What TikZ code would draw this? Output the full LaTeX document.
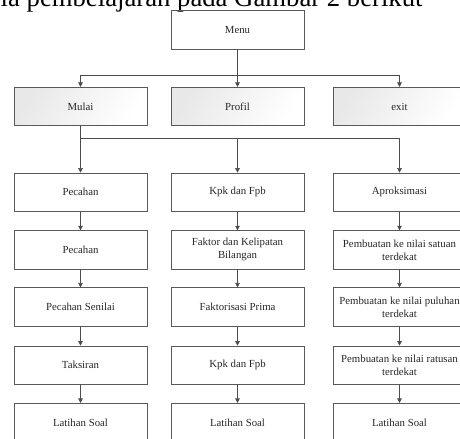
\documentclass[tikz,border=0pt]{standalone}
\usepackage{fontspec}
\setmainfont{Liberation Serif}
\usetikzlibrary{arrows.meta}
\tikzset{
  box/.style={draw=black!65, line width=0.6bp, minimum width=133bp, minimum height=38.5bp,
    inner sep=1bp, align=center, text=black!85, font=\fontsize{10.8bp}{13bp}\selectfont},
  shadebox/.style={box, left color=black!9, right color=white, shading angle=60},
  conn/.style={draw=black!70, line width=0.6bp},
  arr/.style={conn, -{Triangle[length=4.5bp,width=4.5bp]}}
}
\begin{document}
\begin{tikzpicture}[x=1bp,y=-1bp]
\useasboundingbox (0,0) rectangle (460,439);
\clip (0,0) rectangle (460,439);
\node[anchor=base west, inner sep=0pt, font=\fontsize{26.7bp}{30bp}\selectfont] (title) at (0.5,6.5) {ia pembelajaran pada Gambar 2 berikut};
% top
\node[box] (menu) at (237.5,29.9) {Menu};
\node[shadebox] (mulai) at (80.5,106.5) {Mulai};
\node[shadebox] (profil) at (237.5,106.5) {Profil};
\node[shadebox] (exit) at (399.5,106.5) {exit};
% left column
\node[box] (a1) at (80.5,192.2) {Pecahan};
\node[box] (a2) at (80.5,249.9) {Pecahan};
\node[box] (a3) at (80.5,307) {Pecahan Senilai};
\node[box] (a4) at (80.5,365.2) {Taksiran};
\node[box] (a5) at (80.5,422.5) {Latihan Soal};
% middle column
\node[box] (b1) at (237.5,192.2) {Kpk dan Fpb};
\node[box] (b2) at (237.5,249.9) {Faktor dan Kelipatan\\Bilangan};
\node[box] (b3) at (237.5,307) {Faktorisasi Prima};
\node[box] (b4) at (237.5,365.2) {Kpk dan Fpb};
\node[box] (b5) at (237.5,422.5) {Latihan Soal};
% right column
\node[box] (c1) at (399.5,192.2) {Aproksimasi};
\node[box] (c2) at (399.5,249.9) {Pembuatan ke nilai satuan\\terdekat};
\node[box] (c3) at (399.5,307) {Pembuatan ke nilai puluhan\\terdekat};
\node[box] (c4) at (399.5,365.2) {Pembuatan ke nilai ratusan\\terdekat};
\node[box] (c5) at (399.5,422.5) {Latihan Soal};
% connectors
\coordinate (j1) at (237.5,75.7);
\coordinate (j2) at (80.5,138);
\draw[conn] (menu.south) -- (j1);
\draw[arr] (j1) -| (mulai.north);
\draw[arr] (j1) -- (profil.north);
\draw[arr] (j1) -| (exit.north);
\draw[conn] (mulai.south) -- (j2);
\draw[arr] (j2) -- (a1.north);
\draw[arr] (j2) -| (b1.north);
\draw[arr] (j2) -| (c1.north);
\foreach \col in {a,b,c}{
  \draw[arr] (\col1.south) -- (\col2.north);
  \draw[arr] (\col2.south) -- (\col3.north);
  \draw[arr] (\col3.south) -- (\col4.north);
  \draw[arr] (\col4.south) -- (\col5.north);
}
\end{tikzpicture}
\end{document}
